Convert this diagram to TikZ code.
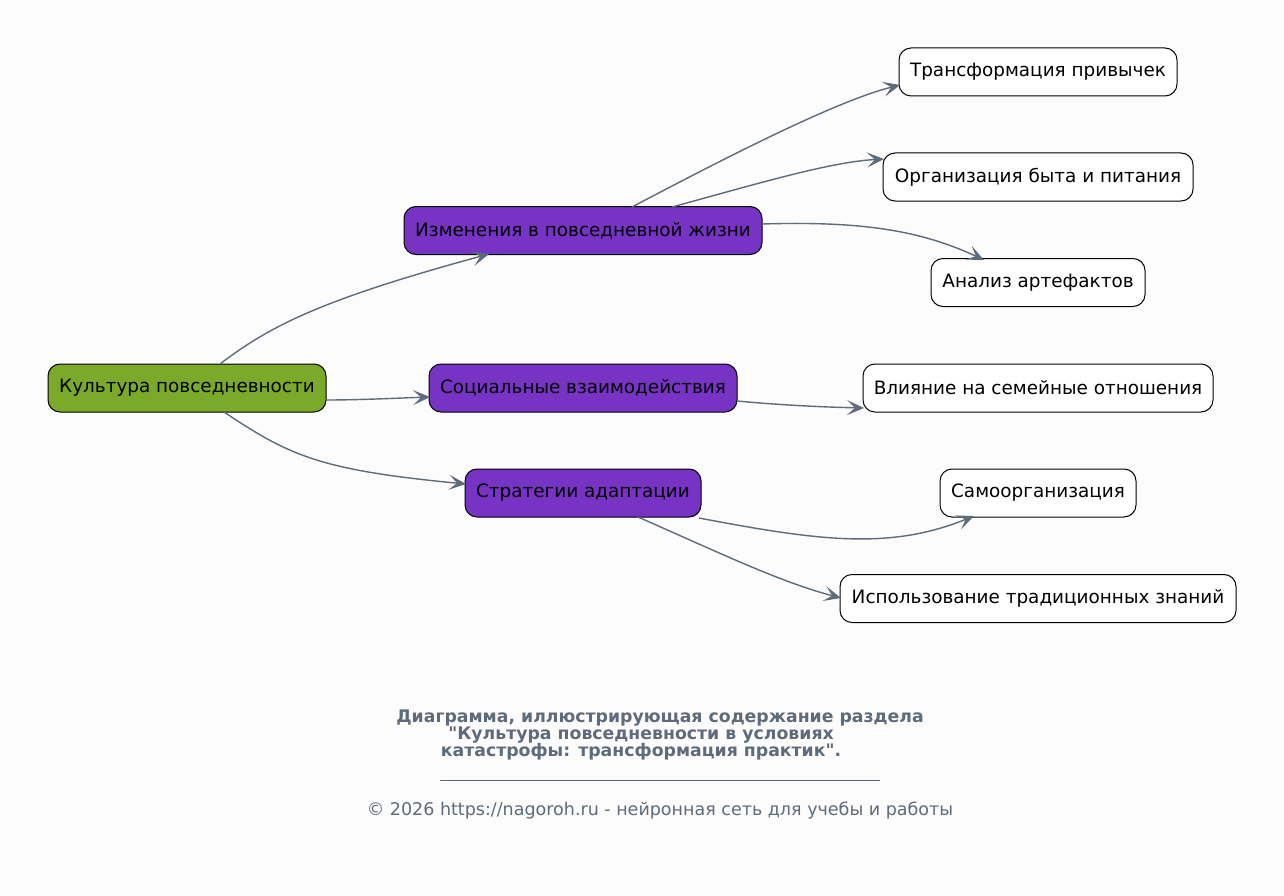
\documentclass[tikz,border=0pt]{standalone}
\usepackage{fontspec}
\setmainfont{DejaVu Sans}
\newfontfamily\plainfont{DejaVu Sans}
\usetikzlibrary{arrows.meta}
\definecolor{bg}{RGB}{253,252,252}
\definecolor{rootc}{RGB}{123,170,43}
\definecolor{midc}{RGB}{119,51,196}
\definecolor{edgec}{RGB}{93,107,122}
\begin{document}
\begin{tikzpicture}[x=1pt,y=-1pt,
  box/.style={draw=black,line width=1pt,rounded corners=12pt,minimum height=48pt,inner xsep=0pt,anchor=center,font=\fontsize{18.4}{21}\selectfont},
  rootbox/.style={box,fill=rootc},
  midbox/.style={box,fill=midc},
  leafbox/.style={box,fill=white},
  conn/.style={draw=edgec,line width=1.4pt,-{Stealth[length=17pt,width=15pt,inset=8pt]}}]
\fill[bg] (0,0) rectangle (1284,896);
\useasboundingbox (0,0) rectangle (1284,896);
\node[rootbox,minimum width=278pt] (root) at (187,388) {Культура повседневности};
\node[midbox,minimum width=358pt] (m1) at (583,230.5) {Изменения в повседневной жизни};
\node[midbox,minimum width=308pt] (m2) at (583,388) {Социальные взаимодействия};
\node[midbox,minimum width=236pt] (m3) at (583,493) {Стратегии адаптации};
\node[leafbox,minimum width=278pt] (l1) at (1038,72) {Трансформация привычек};
\node[leafbox,minimum width=310pt] (l2) at (1038,177) {Организация быта и питания};
\node[leafbox,minimum width=214pt] (l3) at (1038,282.5) {Анализ артефактов};
\node[leafbox,minimum width=350pt] (l4) at (1038,388) {Влияние на семейные отношения};
\node[leafbox,minimum width=196pt] (l5) at (1038,493) {Самоорганизация};
\node[leafbox,minimum width=396pt] (l6) at (1038,598.5) {Использование традиционных знаний};
\coordinate (r1) at (220,364);
\coordinate (r2) at (326,400);
\coordinate (r3) at (224,412);
\coordinate (e1) at (489,254);
\coordinate (e2) at (430,397);
\coordinate (e3) at (466,484);
\draw[conn] (r1) .. controls (270,326) and (320,300) .. (e1);
\draw[conn] (r2) .. controls (360,400) and (400,398) .. (e2);
\draw[conn] (r3) .. controls (290,456) and (320,470) .. (e3);
\coordinate (a1) at (632,207);
\coordinate (a2) at (672,207);
\coordinate (a3) at (762,224);
\coordinate (b1) at (900,85);
\coordinate (b2) at (884,159);
\coordinate (b3) at (984,260);
\draw[conn] (a1) .. controls (740,150) and (840,100) .. (b1);
\draw[conn] (a2) .. controls (760,183) and (830,162) .. (b2);
\draw[conn] (a3) .. controls (860,221) and (920,230) .. (b3);
\coordinate (c1) at (737,401);
\coordinate (d1) at (864,408);
\draw[conn] (c1) .. controls (780,405) and (820,407) .. (d1);
\coordinate (s1) at (699,518);
\coordinate (s2) at (638,517);
\coordinate (t1) at (974,516);
\coordinate (t2) at (841,598);
\draw[conn] (s1) .. controls (820,541) and (890,550) .. (t1);
\draw[conn] (s2) .. controls (720,553) and (780,582) .. (t2);
\node[font=\plainfont\bfseries\fontsize{17.3}{17}\selectfont,text=edgec,align=center] (cap) at (660,735) {Диаграмма, иллюстрирующая содержание раздела\\"Культура повседневности в условиях\rule{38pt}{0pt}\\катастрофы: трансформация практик".\rule{38pt}{0pt}};
\coordinate (h1) at (440,780);
\coordinate (h2) at (880,780);
\draw[edgec,line width=0.8pt] (h1) -- (h2);
\node[font=\fontsize{17.5}{20}\selectfont,text=edgec] (copy) at (660,811) {© 2026 https://nagoroh.ru - нейронная сеть для учебы и работы};
\end{tikzpicture}
\end{document}
